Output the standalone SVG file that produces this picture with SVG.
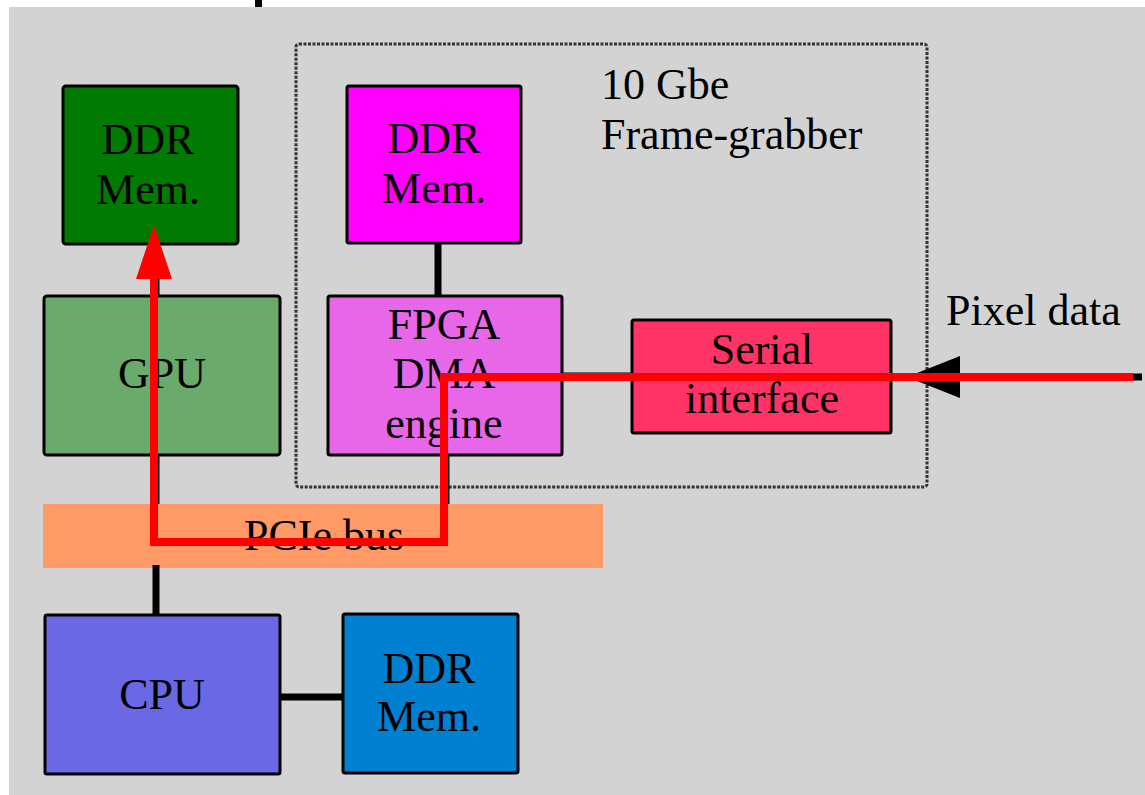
<svg xmlns="http://www.w3.org/2000/svg" width="1145" height="795" viewBox="0 0 1145 795">
<style>
.box{stroke:#000;stroke-width:3}
.t{font-family:"Liberation Serif","Times New Roman",serif;font-size:44px;fill:#000;text-anchor:middle}
.tl{font-family:"Liberation Serif","Times New Roman",serif;font-size:44px;fill:#000}
.conn{stroke:#000;stroke-width:7;fill:none}
.red{stroke:#ff0000;stroke-width:8;fill:none;stroke-linejoin:miter}
</style>
<rect x="0" y="0" width="1145" height="795" fill="#ffffff"/>
<rect x="9" y="7" width="1136" height="788" fill="#d3d3d3"/>
<rect x="255" y="0" width="7" height="7" fill="#000"/>
<rect id="frame" x="296" y="44" width="631" height="443" rx="3" fill="none" stroke="#333" stroke-width="3" stroke-dasharray="3,1.5"/>
<g id="pcie">
<rect x="43" y="504" width="560" height="64" fill="#ff9966"/>
<text class="t" x="324" y="550">PCIe bus</text>
</g>
<g id="connectors">
<line class="conn" x1="156" y1="244" x2="156" y2="296"/>
<line class="conn" x1="156" y1="455" x2="156" y2="504"/>
<line class="conn" x1="156" y1="565" x2="156" y2="615"/>
<line class="conn" x1="280" y1="697" x2="343" y2="697"/>
<line class="conn" x1="438" y1="243" x2="438" y2="296"/>
<line class="conn" x1="446" y1="455" x2="446" y2="504"/>
<line class="conn" x1="562" y1="376" x2="632" y2="376"/>
<line class="conn" x1="955" y1="377" x2="1142" y2="377"/>
<polygon points="907,377 960,356 960,398" fill="#000"/>
</g>
<g id="ddr-gpu">
<rect class="box" x="63" y="86" width="175" height="158" rx="3" fill="#007a00"/>
<text class="t" x="148" y="154">DDR</text>
<text class="t" x="148" y="204">Mem.</text>
</g>
<g id="gpu">
<rect class="box" x="44" y="296" width="236" height="159" rx="3" fill="#6aaa6a"/>
<text class="t" x="162" y="388">GPU</text>
</g>
<g id="ddr-fpga">
<rect class="box" x="347" y="86" width="174" height="157" rx="2" fill="#ff00ff"/>
<text class="t" x="434" y="153">DDR</text>
<text class="t" x="434" y="203">Mem.</text>
</g>
<g id="fpga">
<rect class="box" x="328" y="296" width="234" height="159" rx="2" fill="#e866e8"/>
<text class="t" x="444" y="339">FPGA</text>
<text class="t" x="444" y="388">DMA</text>
<text class="t" x="444" y="438">engine</text>
</g>
<g id="serial">
<rect class="box" x="632" y="320" width="259" height="113" rx="2" fill="#ff3366"/>
<text class="t" x="762" y="364">Serial</text>
<text class="t" x="762" y="413">interface</text>
</g>
<g id="cpu">
<rect class="box" x="45" y="615" width="235" height="159" rx="2" fill="#6b68e6"/>
<text class="t" x="162" y="709">CPU</text>
</g>
<g id="ddr-cpu">
<rect class="box" x="343" y="614" width="175" height="159" rx="2" fill="#0080d0"/>
<text class="t" x="429" y="683">DDR</text>
<text class="t" x="429" y="731">Mem.</text>
</g>
<text class="tl" x="601" y="99">10 Gbe</text>
<text class="tl" x="601" y="149">Frame-grabber</text>
<text class="tl" x="946" y="325">Pixel data</text>
<g id="dataflow">
<polyline class="red" points="1133,377 444,377 444,542 154,542 154,276"/>
<polygon points="154,225 136,279 172,279" fill="#ff0000"/>
</g>
</svg>
